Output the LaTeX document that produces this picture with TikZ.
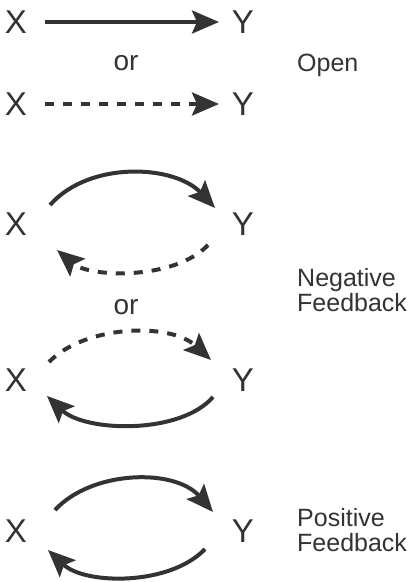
\documentclass[tikz,border=0pt]{standalone}
\usepackage{fontspec}
\setmainfont{Liberation Sans}
\usetikzlibrary{arrows.meta,calc}
\definecolor{ink}{RGB}{51,51,51}
\begin{document}
\begin{tikzpicture}[x=1pt,y=-1pt,
  var/.style={font=\fontsize{33}{40}\selectfont, text=ink, inner sep=0pt},
  conj/.style={font=\fontsize{28}{34}\selectfont, text=ink, inner sep=0pt},
  lbl/.style={font=\fontsize{25}{30}\selectfont, text=ink, inner sep=0pt, anchor=base west},
  link/.style={draw=ink, line width=4pt, -{Stealth[length=27pt,width=23pt,inset=5pt]}},
  dashlink/.style={link, dash pattern=on 9pt off 9pt},
]
\useasboundingbox (0,0) rectangle (413,582);

% Open loop: direct influence
\node[var] (x1) at (16,22) {X};
\node[var] (y1) at (243,22) {Y};
\node[conj] (or1) at (126,63) {or};
\node[var] (x2) at (16,104) {X};
\node[var] (y2) at (243,104) {Y};
\node[lbl] (open) at (297,71) {Open};

\draw[link] ($(x1)+(29,0)$) -- ($(y1)+(-24,0)$);
\draw[dashlink] ($(x2)+(29,0)$) -- ($(y2)+(-24,0)$);

% Negative feedback, first form
\node[var] (x3) at (16,224) {X};
\node[var] (y3) at (243,224) {Y};
\draw[link] ($(x3)+(34,-19)$) .. controls +(40,-45) and +(-40,-43) .. ($(y3)+(-28,-16)$);
\draw[dashlink] ($(y3)+(-35,21)$) .. controls +(-33,35) and +(33,28) .. ($(x3)+(41,26)$);

\node[conj] (or2) at (126,307) {or};
\node[lbl] (neg1) at (297,286) {Negative};
\node[lbl] (neg2) at (297,311) {Feedback};

% Negative feedback, second form
\node[var] (x4) at (16,380) {X};
\node[var] (y4) at (243,380) {Y};
\draw[dashlink] ($(x4)+(33,-18)$) .. controls +(36,-37) and +(-41,-38) .. ($(y4)+(-32,-20)$);
\draw[link] ($(y4)+(-30,17)$) .. controls +(-33,38) and +(38,36) .. ($(x4)+(31,16)$);

% Positive feedback
\node[var] (x5) at (16,531) {X};
\node[var] (y5) at (243,531) {Y};
\draw[link] ($(x5)+(39,-21)$) .. controls +(37,-40) and +(-38,-44) .. ($(y5)+(-30,-19)$);
\draw[link] ($(y5)+(-38,18)$) .. controls +(-35,37) and +(37,35) .. ($(x5)+(32,19)$);

\node[lbl] (pos1) at (297,526) {Positive};
\node[lbl] (pos2) at (297,551) {Feedback};
\end{tikzpicture}
\end{document}
